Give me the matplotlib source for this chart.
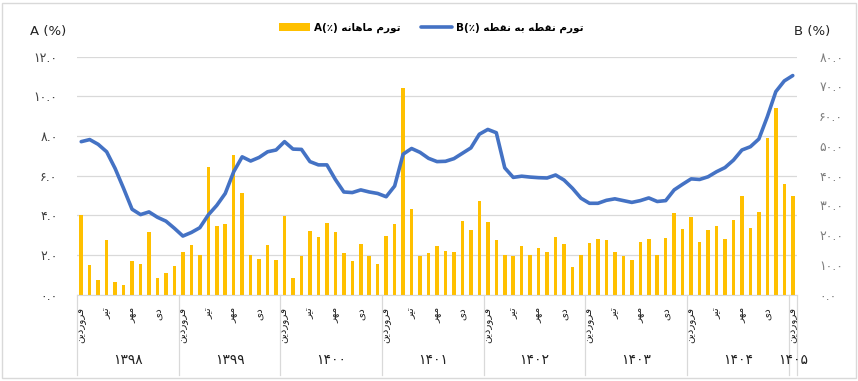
import matplotlib
matplotlib.use("Agg")
import matplotlib.pyplot as plt
import matplotlib.transforms as mtransforms
from matplotlib.patches import Rectangle
from matplotlib.lines import Line2D

# ---------------- data ----------------
years = ["1398", "1399", "1400", "1401", "1402", "1403", "1404", "1405"]
month_names = ["فروردین", "تیر", "مهر", "دی"]   # shown at months 1, 4, 7, 10
series_a_name = "تورم ماهانه"
series_b_name = "تورم نقطه به نقطه"

monthly_a = [
    4.0, 1.51, 0.76, 2.74, 0.62, 0.49, 1.71, 1.56, 3.18, 0.82, 1.09, 1.46,
    2.13, 2.52, 1.98, 6.42, 3.47, 3.57, 7.05, 5.14, 1.98, 1.80, 2.49, 1.77,
    3.94, 0.85, 1.97, 3.19, 2.92, 3.61, 3.18, 2.10, 1.71, 2.55, 1.97, 1.56,
    2.97, 3.56, 10.42, 4.34, 1.97, 2.10, 2.45, 2.22, 2.13, 3.71, 3.26, 4.71,
    3.68, 2.74, 2.0, 1.97, 2.44, 2.0, 2.34, 2.15, 2.89, 2.57, 1.38, 1.98,
    2.62, 2.82, 2.77, 2.15, 1.97, 1.73, 2.66, 2.80, 1.98, 2.86, 4.12, 3.29,
    3.92, 2.66, 3.26, 3.48, 2.82, 3.75, 4.99, 3.38, 4.17, 7.88, 9.43, 5.58,
    4.96,
]
p2p_b = [
    51.4, 52.1, 50.5, 48.0, 42.4, 35.7, 28.7, 26.9, 27.8, 26.0, 24.7, 22.3,
    19.7, 20.9, 22.5, 26.8, 30.0, 34.0, 41.3, 46.3, 44.9, 46.1, 48.0, 48.6,
    51.4, 48.9, 48.8, 44.7, 43.6, 43.6, 38.7, 34.5, 34.3, 35.2, 34.5, 34.0,
    32.9, 36.5, 47.2, 49.1, 47.8, 45.8, 44.7, 44.8, 45.7, 47.5, 49.3, 53.9,
    55.5, 54.4, 42.6, 39.4, 39.8, 39.5, 39.3, 39.2, 40.2, 38.5, 35.7, 32.4,
    30.7, 30.7, 31.7, 32.2, 31.6, 31.0, 31.6, 32.5, 31.3, 31.6, 35.2, 37.1,
    38.9, 38.7, 39.6, 41.3, 42.7, 45.2, 48.6, 49.7, 52.3, 59.8, 68.2, 71.8,
    73.6,
]

# ---------------- Persian shaping helpers ----------------
FORMS = {  # isolated, final, initial, medial
    "ا": ("\uFE8D", "\uFE8E"),
    "ب": ("\uFE8F", "\uFE90", "\uFE91", "\uFE92"),
    "ت": ("\uFE95", "\uFE96", "\uFE97", "\uFE98"),
    "د": ("\uFEA9", "\uFEAA"),
    "ر": ("\uFEAD", "\uFEAE"),
    "ط": ("\uFEC1", "\uFEC2", "\uFEC3", "\uFEC4"),
    "ف": ("\uFED1", "\uFED2", "\uFED3", "\uFED4"),
    "ق": ("\uFED5", "\uFED6", "\uFED7", "\uFED8"),
    "م": ("\uFEE1", "\uFEE2", "\uFEE3", "\uFEE4"),
    "ن": ("\uFEE5", "\uFEE6", "\uFEE7", "\uFEE8"),
    "ه": ("\uFEE9", "\uFEEA", "\uFEEB", "\uFEEC"),
    "و": ("\uFEED", "\uFEEE"),
    "ی": ("\uFBFC", "\uFBFD", "\uFBFE", "\uFBFF"),
}


def shape_word(w):
    out = []
    for i, c in enumerate(w):
        f = FORMS.get(c)
        if f is None:
            out.append(c)
            continue
        prev = w[i - 1] if i > 0 else None
        nxt = w[i + 1] if i + 1 < len(w) else None
        jp = prev is not None and prev in FORMS and len(FORMS[prev]) == 4
        jn = len(f) == 4 and nxt is not None and nxt in FORMS
        if jp and jn:
            out.append(f[3])
        elif jp:
            out.append(f[1])
        elif jn:
            out.append(f[2])
        else:
            out.append(f[0])
    return "".join(reversed(out))


def visual(text):
    return " ".join(shape_word(w) for w in reversed(text.split(" ")))


FA_DIGITS = str.maketrans("0123456789", "۰۱۲۳۴۵۶۷۸۹")


def fa(s):
    return s.translate(FA_DIGITS)


# ---------------- figure ----------------
W, H = 858, 381
fig = plt.figure(figsize=(W / 100, H / 100), dpi=100)
FONT = ["DejaVu Sans"]
plt.rcParams["font.family"] = FONT

x0, x1, ytop, ybot = 77, 797, 56.5, 294.7
ax = fig.add_axes([x0 / W, 1 - ybot / H, (x1 - x0) / W, (ybot - ytop) / H])
ax2 = ax.twinx()

n = len(monthly_a)
xs = list(range(n))
ax.set_zorder(2)
ax2.set_zorder(3)
ax.patch.set_visible(False)

bars = ax.bar(xs, monthly_a, width=0.42, color="#FFC000", zorder=2)
line, = ax2.plot(xs, p2p_b, color="#4472C4", lw=2.6, solid_capstyle="round",
                 solid_joinstyle="round", zorder=4)

ax.set_xlim(-0.5, n - 0.5)
ax.set_ylim(0, 12)
ax2.set_ylim(0, 80)

lt = [0, 2, 4, 6, 8, 10, 12]
ax.set_yticks(lt, [fa(f"{v:.1f}") for v in lt])
rt = [0, 10, 20, 30, 40, 50, 60, 70, 80]
ax2.set_yticks(rt, [fa(f"{v:.1f}") for v in rt])
ax.grid(axis="y", color="#D9D9D9", lw=0.9, zorder=0)
ax.tick_params(axis="y", length=0, pad=14, labelsize=9, labelcolor="#404040")
ax2.tick_params(axis="y", length=0, pad=16, labelsize=9, labelcolor="#7F7F7F")
for a in (ax, ax2):
    for s in a.spines.values():
        s.set_visible(False)
ax.spines["bottom"].set_visible(True)
ax.spines["bottom"].set_color("#D9D9D9")

# month tick labels
tick_pos, tick_lab = [], []
for yi in range(len(years)):
    for k, mn in enumerate(month_names):
        p = yi * 12 + k * 3
        if p < n:
            tick_pos.append(p)
            tick_lab.append(visual(mn))
ax.set_xticks(tick_pos, tick_lab, rotation=90, fontsize=7.5, color="#222222")
ax.tick_params(axis="x", length=0, pad=9)

# year group labels and separators
trans = mtransforms.blended_transform_factory(ax.transData, ax.transAxes)
axh = ybot - ytop
ysep = -(375 - ybot) / axh
bounds = [yi * 12 - 0.5 for yi in range(len(years))] + [n - 0.5]
for b in bounds:
    ax.add_line(Line2D([b, b], [0, ysep], transform=trans, color="#D9D9D9",
                       lw=0.9, clip_on=False))
for yi, yr in enumerate(years):
    lo = yi * 12 - 0.5
    hi = min(yi * 12 + 11.5, n - 0.5)
    ax.text((lo + hi) / 2, -(360 - ybot) / axh, fa(yr), transform=trans,
            ha="center", va="center", fontsize=10, color="#222222")

# axis titles
fig.text(48 / W, 1 - 32 / H, "A (%)", ha="center", va="center", fontsize=9.5,
         color="#222222")
fig.text(812 / W, 1 - 32 / H, "B (%)", ha="center", va="center", fontsize=9.5,
         color="#222222")

# legend
leg = fig.legend([bars, line],
                 ["A(٪) " + visual(series_a_name), "B(٪) " + visual(series_b_name)],
                 loc="center", bbox_to_anchor=(431 / W, 1 - 28 / H), ncol=2,
                 frameon=False, handlelength=3.0, handleheight=0.8,
                 handletextpad=0.35, columnspacing=2.0,
                 prop={"weight": "bold", "size": 7.5})

# chart border
fig.add_artist(Rectangle((2 / W, 3 / H), (W - 4) / W, (H - 6) / H,
                         transform=fig.transFigure, fill=False,
                         edgecolor="#D9D9D9", lw=1))

fig.savefig("out.png", dpi=100)
